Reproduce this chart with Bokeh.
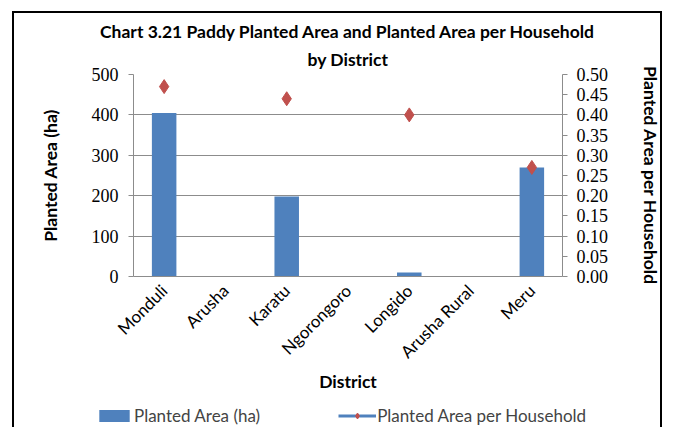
from bokeh.plotting import figure
from bokeh.models import (Range1d, FactorRange, LinearAxis, FixedTicker, NumeralTickFormatter,
                          Legend, LegendItem, ColumnDataSource, Title)
from bokeh.embed import file_html
from bokeh.resources import INLINE
from math import pi, nan

districts = ["Monduli", "Arusha", "Karatu", "Ngorongoro", "Longido", "Arusha Rural", "Meru"]
planted_area = [405, 0, 198, 0, 10, 0, 270]
area_per_household = [0.47, nan, 0.44, nan, 0.40, nan, 0.27]
left_ticks = [0, 100, 200, 300, 400, 500]
right_ticks = [0.0, 0.05, 0.10, 0.15, 0.20, 0.25, 0.30, 0.35, 0.40, 0.45, 0.50]

BLUE = "#4F81BD"
RED = "#C0504D"
GRID = "#8C8C8C"
SANS = "Lato"
SERIF = "Liberation Serif"

src = ColumnDataSource(dict(d=districts, a=planted_area, h=area_per_household))

p = figure(width=650, height=382, x_range=FactorRange(*districts, range_padding=0.0),
           y_range=Range1d(0, 500), output_backend="svg", toolbar_location=None,
           min_border_left=119, min_border_right=102, min_border_top=61, min_border_bottom=119,
           title="Chart 3.21 Paddy Planted Area and Planted Area per Household")
p.styles = {"border": "2px solid black", "border-bottom": "none",
            "margin-left": "12px", "margin-top": "11px"}
t = p.title
t.align = "center"
t.text_font = SANS
t.text_font_size = "17.5px"
t.text_font_style = "bold"
t.text_color = "black"
t.standoff = 0
t2 = Title(text="by District", align="center",
           text_font=SANS, text_font_size="17.5px", text_font_style="bold", text_color="black",
           standoff=10)
p.add_layout(t2, "above")
p.outline_line_color = None

p.extra_y_ranges = {"hh": Range1d(0, 0.5)}

p.vbar(x="d", top="a", width=0.4, source=src, fill_color=BLUE, line_color=None)
p.scatter(x="d", y="h", y_range_name="hh", marker="diamond", size=14, source=src,
          fill_color=RED, line_color=RED)

p.xgrid.grid_line_color = None
p.ygrid.grid_line_color = GRID
p.ygrid.ticker = FixedTicker(ticks=left_ticks)

def style_axis(ax, label, label_standoff, tick_standoff):
    ax.axis_label = label
    ax.axis_label_text_font = SANS
    ax.axis_label_text_font_style = "bold"
    ax.axis_label_text_font_size = "17.5px"
    ax.axis_label_text_color = "black"
    ax.axis_label_standoff = label_standoff
    ax.major_label_text_font = SERIF
    ax.major_label_text_font_size = "18px"
    ax.major_label_text_color = "black"
    ax.major_label_standoff = tick_standoff
    ax.axis_line_color = GRID
    ax.major_tick_line_color = GRID
    ax.major_tick_out = 5
    ax.major_tick_in = 0
    ax.minor_tick_line_color = None

yl = p.yaxis[0]
yl.ticker = FixedTicker(ticks=left_ticks)
style_axis(yl, "Planted Area (ha)", 28, 10)

yr = LinearAxis(y_range_name="hh", ticker=FixedTicker(ticks=right_ticks),
                formatter=NumeralTickFormatter(format="0.00"))
style_axis(yr, "Planted Area per Household", 29, 9)
p.add_layout(yr, "right")

xa = p.xaxis[0]
style_axis(xa, "District", -2, 6)
xa.major_label_orientation = pi / 4
xa.major_label_text_font = SANS
xa.major_label_text_font_size = "17px"
xa.major_tick_line_color = None

# legend strip below the chart (its own root, so its frame is not aligned to the chart's)
lf = figure(width=650, height=34, x_range=FactorRange(*districts), y_range=Range1d(0, 500),
            output_backend="svg", toolbar_location=None,
            min_border_left=0, min_border_right=0, min_border_top=0, min_border_bottom=0)
lf.extra_y_ranges = {"hh": Range1d(0, 0.5)}
lf.axis.visible = False
lf.grid.visible = False
lf.outline_line_color = None
lb = lf.vbar(x="d", top="a", width=0.4, source=src, fill_color=BLUE, line_color=None, visible=False)
ll = lf.line(x="d", y="h", y_range_name="hh", source=src, line_color=BLUE, line_width=3, visible=False)
ld = lf.scatter(x="d", y="h", y_range_name="hh", marker="diamond", size=14, source=src,
                fill_color=RED, line_color=RED, visible=False)

legend = Legend(items=[LegendItem(label="Planted Area (ha)", renderers=[lb]),
                       LegendItem(label="Planted Area per Household", renderers=[ll, ld])],
                orientation="horizontal", border_line_color=None, background_fill_alpha=0,
                inactive_fill_alpha=0,
                label_text_font=SANS, label_text_font_size="17px", spacing=78,
                glyph_width=38, glyph_height=15, label_standoff=1, margin=0, padding=0,
                location=(81, 1))
lf.add_layout(legend)
lf.styles = {"border-left": "2px solid black", "border-right": "2px solid black",
             "margin-left": "12px"}

open("out.html", "w").write(file_html([p, lf], INLINE))
